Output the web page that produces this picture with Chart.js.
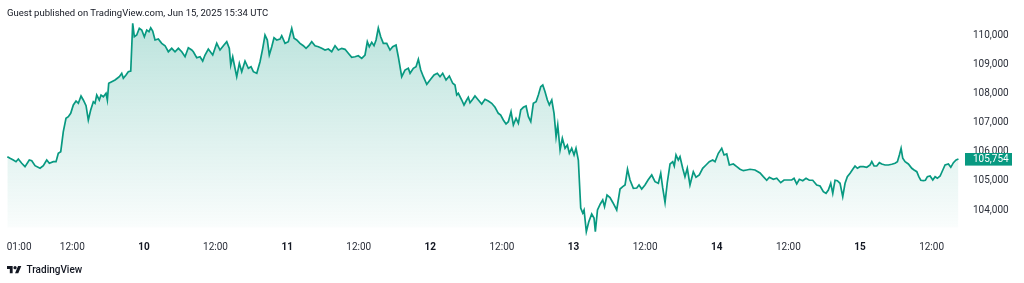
<!DOCTYPE html>
<html><head><meta charset="utf-8">
<script src="https://cdn.jsdelivr.net/npm/chart.js@4.4.1/dist/chart.umd.min.js"></script>
<style>
html,body{margin:0;padding:0;background:#fff;width:1024px;height:283px;overflow:hidden;}
#wrap{position:relative;width:1024px;height:283px;}
#c{position:absolute;left:0;top:0;}
#hdr{position:absolute;left:7px;top:6px;font:9.5px Roboto,sans-serif;color:#131722;white-space:nowrap;line-height:13px;}
#logo{position:absolute;left:7px;top:263px;display:flex;align-items:center;font:500 10px Roboto,sans-serif;color:#131722;line-height:14px;}
#logo svg{margin-right:5px;}
</style></head>
<body>
<div id="wrap"><canvas id="c" width="1024" height="283"></canvas>
<div id="hdr">Guest published on TradingView.com, Jun 15, 2025 15:34 UTC</div>
<div id="logo"><svg width="14.5" height="7.4" viewBox="0 4 36 18"><path fill="#131722" d="M14 22H7V11H0V4h14v18zM28 22h-8l7.5-18h8L28 22z"/><circle fill="#131722" cx="20" cy="8" r="4"/></svg><span>TradingView</span></div>
</div>
<script>
// hours since 9 Jun 00:00 (axis time)
const times = [1.11,1.56,2.11,2.56,2.95,3.52,4.07,4.79,5.20,5.75,6.59,7.14,7.71,8.15,8.82,9.27,9.65,10.06,10.49,10.94,11.33,11.73,12.17,12.62,13.01,13.46,13.84,14.30,14.68,15.08,15.52,15.80,16.09,16.52,16.81,17.20,17.65,17.87,18.10,18.60,19.16,19.54,19.88,20.28,20.55,21.00,21.38,21.79,22.12,22.39,22.79,23.23,23.63,24.07,24.47,24.85,25.14,25.47,25.86,26.41,26.98,27.54,28.09,28.66,29.21,29.77,30.34,30.89,31.44,32.01,32.28,32.85,33.40,33.85,34.24,34.79,35.53,36.20,36.75,37.31,37.88,38.31,38.55,38.88,39.15,39.55,39.99,40.39,40.94,41.50,41.95,42.34,42.91,43.46,43.91,44.29,44.68,45.01,45.42,45.80,46.25,46.81,47.09,47.65,48.20,48.77,49.16,49.61,50.16,50.71,51.17,51.62,52.12,52.67,53.23,53.80,54.35,54.90,55.47,56.03,56.58,57.15,57.70,58.25,58.82,59.37,59.93,60.50,61.05,61.44,61.77,62.18,62.56,62.90,63.28,63.68,64.12,64.69,65.24,65.69,66.25,66.63,67.20,67.75,68.31,68.60,69.15,69.60,69.99,70.39,70.83,71.40,71.95,72.62,73.17,73.62,74.07,74.63,75.18,75.75,76.13,76.42,76.69,77.26,77.64,78.09,78.36,78.65,79.10,79.48,80.04,80.61,81.16,81.71,82.28,82.84,83.39,83.79,84.23,84.68,85.07,85.52,85.91,86.36,86.75,87.15,87.59,88.04,88.43,88.83,89.26,89.72,90.10,90.50,90.84,91.22,91.61,91.94,92.35,92.73,93.07,93.35,93.74,94.12,94.57,94.96,95.29,95.69,96.08,96.41,96.80,97.20,97.54,97.76,98.14,98.54,99.04,99.43,99.65,100.01,100.48,100.89,101.19,101.61,102.11,102.62,103.23,103.79,104.24,104.63,105.04,105.46,106.02,106.59,106.97,107.42,107.97,108.48,109.10,109.65,110.21,110.61,110.94,111.33,111.71,112.17,112.62,112.88,113.17,113.55,113.84,114.29,114.67,115.06,115.51,116.07,116.52,117.07,117.64,118.20,118.75,119.32,119.71,120.26,120.83,121.22,121.67,122.11,122.78,123.35,123.90,124.45,125.02,125.57,126.41,127.25,127.80,128.37,128.81,129.48,130.05,130.72,131.27,131.99,132.56,132.95,133.40,133.84,134.41,134.96,135.51,136.08,136.75,137.31,137.86,138.31,138.70,139.10,139.44,139.82,140.21,140.66,141.11,141.50,141.88,142.34,142.79,143.17,143.56,144.01,144.57,145.14,145.69,145.98,146.36,146.81,147.25,147.65,148.20,148.76,149.33,149.88,150.27,150.60,150.89,151.17,151.56,152.11,152.68,153.07,153.52,153.86,154.19,154.63,154.96,155.30,155.75,156.20,156.59,156.97,157.43,157.88,158.26,158.82,159.22,159.66,160.11,160.50];
const prices = [105835,105780,105720,105663,105756,105608,105491,105722,105697,105525,105436,105525,105722,105608,105663,105663,105952,106007,106696,107157,107212,107329,107615,107752,107673,107924,107787,107591,107098,107443,107728,107673,107959,107787,107959,107900,108017,107787,108362,108417,108475,108534,108589,108706,108534,108647,108761,108785,110427,109966,110024,110255,110196,109966,110196,110138,110275,110162,109852,109886,109738,109656,109449,109566,109449,109566,109449,109277,109587,109508,109449,109243,109277,109129,109336,109542,109336,109738,109508,109656,109793,109566,108991,109277,108991,108589,109050,108761,109129,108878,108933,108761,108706,109105,109566,110024,109852,109336,109621,109931,109852,109886,110000,109738,109793,110255,109911,109852,109738,109656,109566,109656,109793,109656,109621,109566,109508,109542,109449,109656,109508,109566,109532,109394,109257,109277,109312,109222,109336,109793,109621,109773,109656,109852,110265,109966,109738,109738,109508,109621,109680,109277,108589,108819,108878,108706,108878,108933,109188,108819,108589,108327,108475,108647,108706,108589,108706,108475,108613,108362,108303,107959,108017,107787,107615,107787,107880,107694,107811,107924,107787,107649,107811,107752,107673,107536,107329,107270,107098,106961,107040,107384,106926,107157,106985,107443,107536,107580,107212,107040,107673,107728,107959,108245,108303,108072,107787,107615,107787,107329,106524,106926,106066,106469,106124,106238,105952,106124,105894,106124,105722,104069,103897,104001,103254,103588,103863,103725,103254,104001,104207,104345,104114,104517,104431,104242,104001,104723,104803,104861,105402,105033,104747,104758,104861,104723,104861,105033,105205,104975,104920,105264,104758,104259,104947,105584,105663,105515,105894,105722,105835,105436,105147,105436,104861,105319,105126,105205,105436,105549,105663,105722,105663,105952,106124,105894,105928,105549,105584,105491,105402,105353,105377,105402,105377,105274,105147,105025,105126,105057,105092,104940,105033,105033,105033,105092,104896,105057,105009,105092,105025,105025,104861,104827,104630,104575,104689,104920,104575,105025,105009,104920,104458,104920,105147,105264,105402,105515,105436,105491,105491,105470,105549,105663,105515,105515,105629,105584,105549,105549,105574,105608,105663,105894,106124,105780,105663,105584,105436,105377,105319,105147,105025,105009,105025,105147,105171,105033,105147,105092,105171,105377,105549,105584,105470,105629,105722,105754];
const xTickValues = [1,12,24,36,48,60,72,84,96,108,120,132,144,156,161.6];
const xTickLabels = ['01:00','12:00','10','12:00','11','12:00','12','12:00','13','12:00','14','12:00','15','12:00',''];
const dayLabels = ['10','11','12','13','14','15'];
const yTickValues = [104000,105000,106000,107000,108000,109000,110000];
const lastPrice = 105754;

const GREEN = '#089981';
const fmt = v => Number(v).toLocaleString('en-US');

const priceTag = {
  id:'priceTag',
  afterDraw(chart){
    const c = chart.ctx, ys = chart.scales.y, area = chart.chartArea;
    const y = ys.getPixelForValue(lastPrice);
    c.save();
    c.fillStyle = GREEN;
    c.fillRect(area.right, Math.round(y - 6.3), 47, 12.6);
    c.fillStyle = '#fff';
    c.font = '10px Roboto, sans-serif';
    c.textBaseline = 'middle';
    c.textAlign = 'left';
    c.fillText(fmt(lastPrice), area.right + 8, y + 0.5);
    c.restore();
  }
};

new Chart(document.getElementById('c'), {
  type:'line',
  data:{datasets:[{
    data: times.map((t,i)=>({x:t, y:prices[i]})),
    borderColor: GREEN,
    borderWidth: 1.7,
    pointRadius: 0,
    tension: 0,
    fill: 'start',
    backgroundColor: (ctx) => {
      const ch = ctx.chart, a = ch.chartArea;
      if (!a) return 'rgba(8,153,129,0.15)';
      const g = ch.ctx.createLinearGradient(0, a.top, 0, a.bottom);
      const fadeEnd = Math.min(1, (226 - a.top) / (a.bottom - a.top));
      g.addColorStop(0, 'rgba(8,153,129,0.28)');
      g.addColorStop(fadeEnd, 'rgba(8,153,129,0.025)');
      g.addColorStop(Math.min(1, fadeEnd + 0.01), 'rgba(8,153,129,0)');
      g.addColorStop(1, 'rgba(8,153,129,0)');
      return g;
    }
  }]},
  options:{
    responsive:false,
    animation:false,
    devicePixelRatio:1,
    layout:{padding:{top:18,left:0,right:0,bottom:0}},
    plugins:{legend:{display:false}, tooltip:{enabled:false}},
    scales:{
      x:{
        type:'linear', min:-0.12, max:161.6,
        grid:{display:false, drawTicks:false}, border:{display:false},
        afterBuildTicks: s => { s.ticks = xTickValues.map(v=>({value:v})); },
        afterFit: s => { s.height = 47; s.paddingLeft = 0; s.paddingRight = 0; },
        ticks:{
          autoSkip:false, maxRotation:0, minRotation:0, align:'inner', padding:5,
          color: ctx => dayLabels.includes(xTickLabels[ctx.index]) ? '#131722' : '#2a2e39',
          font: ctx => ({family:'Roboto', size:10, weight: dayLabels.includes(xTickLabels[ctx.index]) ? 'bold' : 'normal'}),
          callback: (v, i) => xTickLabels[i]
        }
      },
      y:{
        position:'right', min:103105, max:110610,
        grid:{display:false, drawTicks:false}, border:{display:false},
        afterBuildTicks: s => { s.ticks = yTickValues.map(v=>({value:v})); },
        afterFit: s => { s.width = 59; s.paddingTop = 0; s.paddingBottom = 0; },
        ticks:{padding:8, color:'#2a2e39', font:{family:'Roboto', size:10}, callback: v => fmt(v)}
      }
    }
  },
  plugins:[priceTag]
});
</script>
</body></html>
